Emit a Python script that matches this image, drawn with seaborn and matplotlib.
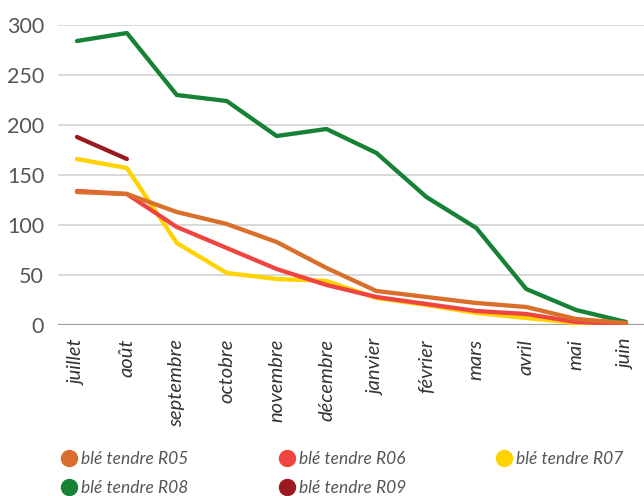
import matplotlib
matplotlib.use("Agg")
import matplotlib.pyplot as plt
from matplotlib.lines import Line2D
import numpy as np
import pandas as pd
import seaborn as sns

months = ["juillet", "août", "septembre", "octobre", "novembre", "décembre",
          "janvier", "février", "mars", "avril", "mai", "juin"]

r05 = [133, 131, 113, 101, 83, 57, 34, 28, 22, 18, 6, 2]
r06 = [134, 131, 98, 77, 56, 40, 28, 21, 14, 11, 3, 1]
r07 = [166, 157, 82, 52, 46, 44, 27, 20, 12, 7, 2, 0]
r08 = [284, 292, 230, 224, 189, 196, 172, 128, 97, 36, 15, 3]
r09 = [188, 166]

series = ["blé tendre R05", "blé tendre R06", "blé tendre R07", "blé tendre R08", "blé tendre R09"]
colors = ["#DA6E2B", "#EE4540", "#FFD300", "#178236", "#9A1A1F"]

rows = []
for name, vals in zip(series, [r05, r06, r07, r08, r09]):
    for m, v in zip(months, vals):
        rows.append({"mois": m, "valeur": v, "serie": name})
df = pd.DataFrame(rows)
df["x"] = df["mois"].map({m: i for i, m in enumerate(months)})

sns.set_style("white")
plt.rcParams["font.family"] = ["Lato", "DejaVu Sans"]

fig = plt.figure(figsize=(6.44, 4.96), dpi=100)
ax = fig.add_axes([58 / 644, 1 - 325 / 496, 1 - 58 / 644, 300 / 496])

# draw in reverse so R05 sits on top like the original
for i in range(len(series) - 1, -1, -1):
    sub = df[df["serie"] == series[i]]
    sns.lineplot(data=sub, x="x", y="valeur", ax=ax, color=colors[i],
                 linewidth=3.1, legend=False, zorder=3 + (len(series) - i))

ax.set_ylim(0, 300)
ax.set_xlim(-0.38, 11.36)
ax.set_yticks(range(0, 301, 50))
ax.yaxis.grid(True, color="#D6D6D6", linewidth=1.3)
ax.axhline(0, color="#A0A0A0", linewidth=1.6, zorder=2)
for s in ax.spines.values():
    s.set_visible(False)
ax.set_xlabel("")
ax.set_ylabel("")
ax.set_xticks(range(len(months)))
ax.set_xticklabels(months, rotation=90, style="italic", fontsize=14.5,
                   color="#333333")
ax.tick_params(axis="x", length=0, pad=10)
ax.tick_params(axis="y", length=0, pad=10, labelsize=15.5, labelcolor="#555555")

# legend filled column-wise, so order handles to read row-wise
order = [0, 3, 1, 4, 2]
handles = [Line2D([], [], marker="o", linestyle="none", markersize=11.5,
                  markerfacecolor=colors[k], markeredgecolor=colors[k]) for k in order]
labels = [series[k] for k in order]
leg = fig.legend(handles, labels, loc="upper left", bbox_to_anchor=(0.072, 0.122),
                 ncol=3, frameon=False, handlelength=0.8, handletextpad=0.3,
                 columnspacing=5.25, labelspacing=0.74, borderpad=0.4,
                 prop={"style": "italic", "size": 12.5})
for t in leg.get_texts():
    t.set_color("#555555")

fig.savefig("out.png", dpi=100)
